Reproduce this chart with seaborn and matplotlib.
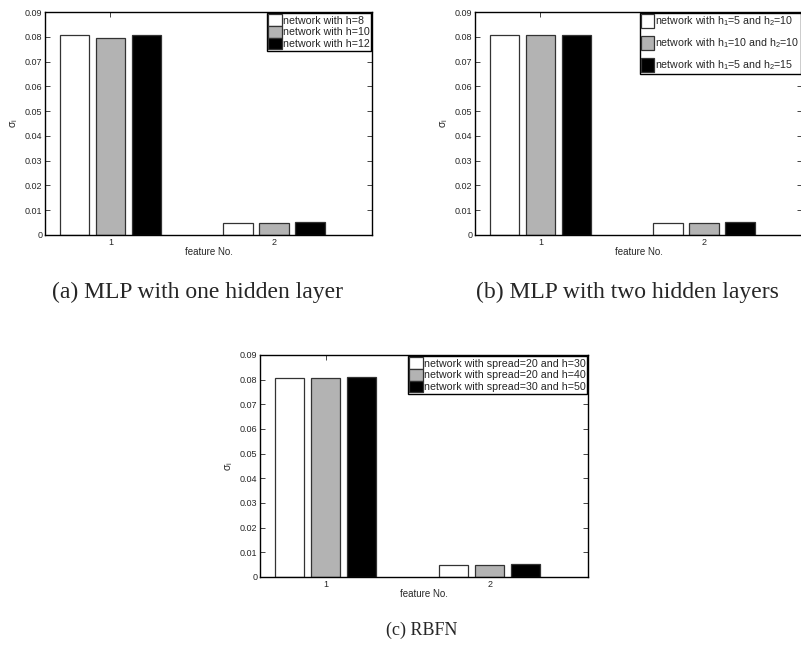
import matplotlib
matplotlib.use("Agg")
import matplotlib.pyplot as plt
import seaborn as sns
import pandas as pd

# feature importance (sigma_i) per network configuration
features = ["1", "2"]

mlp1_labels = ["network with h=8", "network with h=10", "network with h=12"]
mlp1_feat1 = [0.0807, 0.0795, 0.0809]
mlp1_feat2 = [0.0049, 0.0049, 0.0051]

mlp2_labels = ["network with h$_1$=5 and h$_2$=10",
               "network with h$_1$=10 and h$_2$=10",
               "network with h$_1$=5 and h$_2$=15"]
mlp2_feat1 = [0.0808, 0.0806, 0.0809]
mlp2_feat2 = [0.0049, 0.0049, 0.0051]

rbf_labels = ["network with spread=20 and h=30",
              "network with spread=20 and h=40",
              "network with spread=30 and h=50"]
rbf_feat1 = [0.0808, 0.0808, 0.0809]
rbf_feat2 = [0.0049, 0.0049, 0.0051]

yticks = [0, 0.01, 0.02, 0.03, 0.04, 0.05, 0.06, 0.07, 0.08, 0.09]
ytick_labels = ["0", "0.01", "0.02", "0.03", "0.04", "0.05", "0.06", "0.07", "0.08", "0.09"]

captions = ["(a) MLP with one hidden layer", "(b) MLP with two hidden layers", "(c) RBFN"]

sns.set_style("ticks")
plt.rcParams["font.family"] = ["Liberation Sans", "DejaVu Sans"]
plt.rcParams["mathtext.fontset"] = "custom"
plt.rcParams["mathtext.rm"] = "Liberation Sans"
plt.rcParams["mathtext.it"] = "Liberation Sans:italic"
plt.rcParams["mathtext.default"] = "regular"

W, H = 801, 647
fig = plt.figure(figsize=(W / 100, H / 100), dpi=100)


def px_axes(x0, y0, x1, y1):
    return fig.add_axes([x0 / W, 1 - y1 / H, (x1 - x0) / W, (y1 - y0) / H])


def make_frame(labels, f1, f2):
    rows = []
    for lab, a, b in zip(labels, f1, f2):
        rows.append({"feature": features[0], "network": lab, "sigma": a})
        rows.append({"feature": features[1], "network": lab, "sigma": b})
    return pd.DataFrame(rows)


def draw(ax, labels, f1, f2, handleheight=1.25, labelspacing=0.05):
    df = make_frame(labels, f1, f2)
    sns.barplot(data=df, x="feature", y="sigma", hue="network",
                hue_order=labels, order=features,
                palette=["white", "#b3b3b3", "black"],
                width=0.66, gap=0.18, edgecolor="#333333", linewidth=0.9,
                errorbar=None, ax=ax)
    ax.set_xlim(-0.4, 1.6)
    ax.set_ylim(0, 0.09)
    ax.set_yticks(yticks)
    ax.set_yticklabels(ytick_labels)
    ax.tick_params(axis="both", direction="in", length=3.5, width=0.6,
                   labelsize=6.5, top=True, right=True, pad=2)
    for s in ax.spines.values():
        s.set_visible(True)
        s.set_linewidth(1.0)
        s.set_color("black")
    ax.set_xlabel("feature No.", fontsize=7, labelpad=0.5)
    ax.set_ylabel("σ$_{i}$", fontsize=7.5, labelpad=3)
    handles, labs = ax.get_legend_handles_labels()
    leg = ax.legend(handles, labs, loc="upper right", fontsize=7.7,
                    frameon=True, fancybox=False, framealpha=1,
                    edgecolor="black", handlelength=1.25,
                    handleheight=handleheight, handletextpad=0.1,
                    borderpad=0.12, labelspacing=labelspacing,
                    borderaxespad=0.1)
    leg.get_frame().set_linewidth(1.0)


ax_a = px_axes(45, 12, 372, 235)
draw(ax_a, mlp1_labels, mlp1_feat1, mlp1_feat2)

ax_b = px_axes(475, 12, 802, 235)
draw(ax_b, mlp2_labels, mlp2_feat1, mlp2_feat2, handleheight=1.55, labelspacing=0.75)

ax_c = px_axes(260, 355, 588, 577)
draw(ax_c, rbf_labels, rbf_feat1, rbf_feat2)

cap_kw = dict(family="Liberation Serif", ha="center", va="center")
fig.text(198 / W, 1 - 292 / H, captions[0], fontsize=17, **cap_kw)
fig.text(627 / W, 1 - 292 / H, captions[1], fontsize=17, **cap_kw)
fig.text(422 / W, 1 - 630 / H, captions[2], fontsize=13, **cap_kw)

fig.savefig("out.png", dpi=100, facecolor="white")
